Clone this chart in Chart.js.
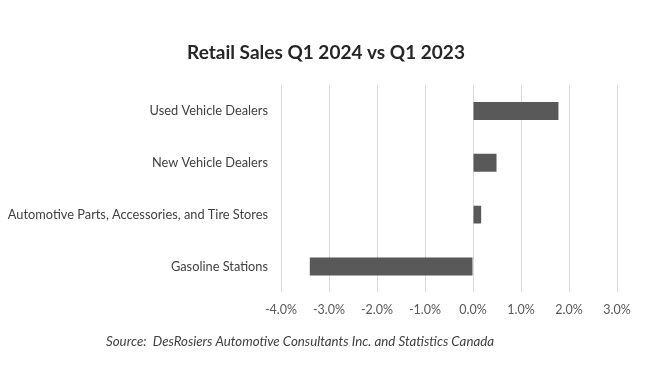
<!DOCTYPE html>
<html>
<head>
<meta charset="utf-8">
<script src="https://cdn.jsdelivr.net/npm/chart.js@4"></script>
<style>
  html, body { margin: 0; padding: 0; background: #fff; }
  #wrap { width: 650px; height: 390px; }
</style>
</head>
<body>
<div id="wrap"><canvas id="canvas-1" width="650" height="390"></canvas></div>
<script>
  'use strict';

  var categories = ['Used Vehicle Dealers', 'New Vehicle Dealers', 'Automotive Parts, Accessories, and Tire Stores', 'Gasoline Stations'];
  var salesChange = [1.78, 0.49, 0.17, -3.40];
  var xTicks = [-4, -3, -2, -1, 0, 1, 2, 3];
  var titleText = 'Retail Sales Q1 2024 vs Q1 2023';
  var sourceText = 'Source:  DesRosiers Automotive Consultants Inc. and Statistics Canada';

  var fontFamily = 'Lato, "Open Sans", sans-serif';

  // title centred on the whole canvas, source note under the axis
  var textPlugin = {
    id: 'textNotes',
    afterDraw: function (chart) {
      var c = chart.ctx;
      c.save();
      c.textBaseline = 'middle';
      c.font = 'bold 19px ' + fontFamily;
      c.fillStyle = '#262626';
      c.textAlign = 'center';
      c.fillText(titleText, 326, 53);
      c.font = 'italic 13.3px ' + fontFamily;
      c.fillStyle = '#404040';
      c.textAlign = 'left';
      c.fillText(sourceText, 106, 342);
      c.restore();
    }
  };

  var ctx = document.getElementById('canvas-1');
  var chart = new Chart(ctx, {
    type: 'bar',
    data: {
      labels: categories,
      datasets: [{
        label: 'Retail Sales',
        data: salesChange,
        backgroundColor: '#595959',
        borderWidth: 0,
        categoryPercentage: 1,
        barPercentage: 0.346
      }]
    },
    options: {
      indexAxis: 'y',
      responsive: false,
      animation: false,
      layout: { padding: { left: 0, right: 33, top: 85, bottom: 62.6 } },
      plugins: {
        legend: { display: false },
        tooltip: { enabled: false },
        title: { display: false }
      },
      scales: {
        x: {
          min: xTicks[0],
          max: xTicks[xTicks.length - 1],
          afterBuildTicks: function (axis) {
            axis.ticks = xTicks.map(function (v) { return { value: v }; });
          },
          grid: { color: '#d9d9d9', lineWidth: 1, drawTicks: false },
          border: { display: false },
          ticks: {
            color: '#595959',
            padding: 10,
            font: { family: fontFamily, size: 12.5 },
            callback: function (v) { return v.toFixed(1) + '%'; }
          }
        },
        y: {
          afterFit: function (axis) { axis.width = 281; },
          grid: { display: false, drawTicks: false },
          border: { display: false },
          ticks: {
            color: '#404040',
            padding: 13,
            font: { family: fontFamily, size: 12.8 }
          }
        }
      }
    },
    plugins: [textPlugin]
  });
</script>
</body>
</html>
